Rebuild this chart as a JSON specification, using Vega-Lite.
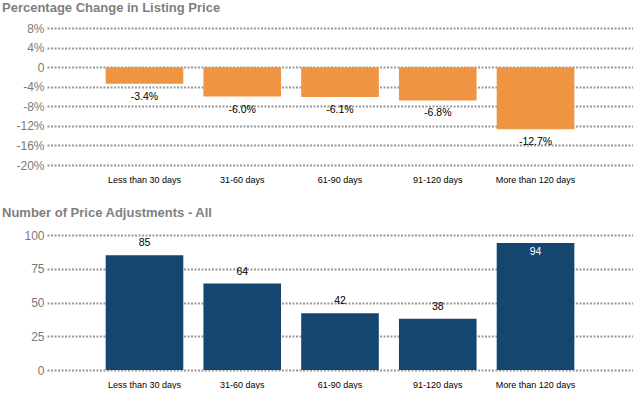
{
  "$schema": "https://vega.github.io/schema/vega-lite/v6.json",
  "padding": {"left": 2, "top": 2, "right": 0, "bottom": 0},
  "background": "white",
  "spacing": 23,
  "config": {
    "view": {"stroke": null},
    "title": {"anchor": "start", "frame": "group", "font": "Liberation Sans", "fontSize": 13, "fontWeight": "bold", "color": "#7f7f7f", "dx": -45, "offset": 7},
    "axisX": {"domain": false, "ticks": false, "grid": false, "labelFont": "Liberation Sans", "labelFontSize": 9, "labelColor": "#000000", "labelAngle": 0, "labelPadding": 10, "title": null},
    "axisY": {"domain": false, "ticks": false, "grid": true, "gridColor": "#999999", "gridDash": [2, 1.5], "gridWidth": 2, "labelFont": "Liberation Sans", "labelFontSize": 12, "labelColor": "#7a7a7a", "labelPadding": 3, "title": null}
  },
  "datasets": {
    "pct": [
      {"period": "Less than 30 days", "change": -0.034},
      {"period": "31-60 days", "change": -0.060},
      {"period": "61-90 days", "change": -0.061},
      {"period": "91-120 days", "change": -0.068},
      {"period": "More than 120 days", "change": -0.127}
    ],
    "adj": [
      {"period": "Less than 30 days", "count": 85},
      {"period": "31-60 days", "count": 64},
      {"period": "61-90 days", "count": 42},
      {"period": "91-120 days", "count": 38},
      {"period": "More than 120 days", "count": 94}
    ]
  },
  "vconcat": [
    {
      "title": "Percentage Change in Listing Price",
      "width": 586,
      "height": 137,
      "data": {"name": "pct"},
      "encoding": {
        "x": {"field": "period", "type": "nominal", "sort": null,
              "scale": {"paddingInner": 0.206, "paddingOuter": 0.6}},
        "y": {"field": "change", "type": "quantitative",
              "scale": {"domain": [-0.2, 0.08], "nice": false},
              "axis": {"values": [-0.2, -0.16, -0.12, -0.08, -0.04, 0, 0.04, 0.08],
                       "labelExpr": "abs(datum.value) < 1e-9 ? '0' : replace(format(datum.value, '.0%'), '\u2212', '-')"}}
      },
      "layer": [
        {"mark": {"type": "bar", "color": "#ef9443"}},
        {
          "transform": [{"calculate": "replace(format(datum.change, '.1%'), '\u2212', '-')", "as": "label"}],
          "mark": {"type": "text", "font": "Liberation Sans", "fontSize": 10.5, "color": "#000000", "baseline": "middle", "dy": 13},
          "encoding": {"text": {"field": "label"}}
        }
      ]
    },
    {
      "title": {"text": "Number of Price Adjustments - All", "offset": 9},
      "width": 586,
      "height": 135,
      "data": {"name": "adj"},
      "encoding": {
        "x": {"field": "period", "type": "nominal", "sort": null,
              "scale": {"paddingInner": 0.206, "paddingOuter": 0.6}},
        "y": {"field": "count", "type": "quantitative",
              "scale": {"domain": [0, 100], "nice": false},
              "axis": {"values": [0, 25, 50, 75, 100]}}
      },
      "layer": [
        {"mark": {"type": "bar", "color": "#15466f"}},
        {
          "transform": [{"filter": "datum.count < 90"}],
          "mark": {"type": "text", "font": "Liberation Sans", "fontSize": 10.5, "color": "#000000", "baseline": "middle", "dy": -12},
          "encoding": {"text": {"field": "count", "type": "quantitative"}}
        },
        {
          "transform": [{"filter": "datum.count >= 90"}],
          "mark": {"type": "text", "font": "Liberation Sans", "fontSize": 10.5, "color": "#ffffff", "baseline": "middle", "dy": 9},
          "encoding": {"text": {"field": "count", "type": "quantitative"}}
        }
      ]
    }
  ]
}
